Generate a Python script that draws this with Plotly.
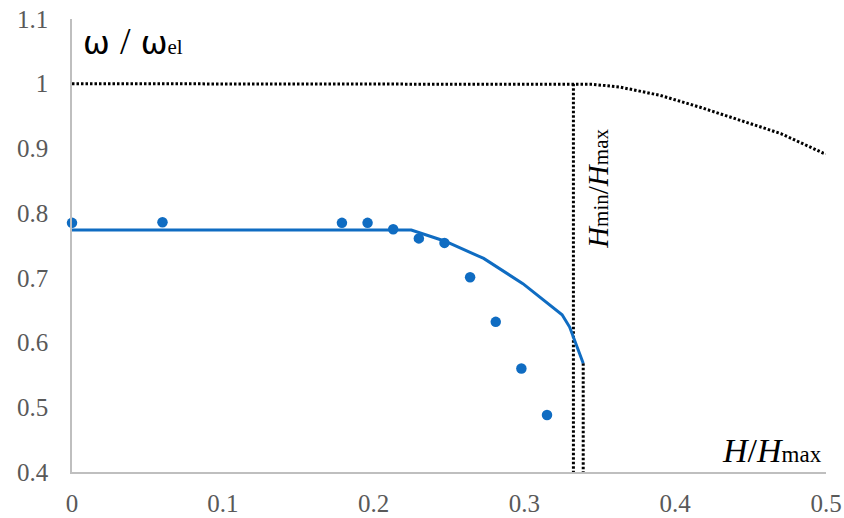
import plotly.graph_objects as go

# Measured points (markers)
pts_x = [0.0, 0.06, 0.179, 0.196, 0.213, 0.230, 0.247, 0.264, 0.281, 0.298, 0.315]
pts_y = [0.785, 0.786, 0.785, 0.785, 0.775, 0.761, 0.754, 0.701, 0.632, 0.560, 0.488]

# Computed curve (solid blue)
line_x = [0.0, 0.225, 0.247, 0.273, 0.299, 0.325, 0.330, 0.339]
line_y = [0.774, 0.774, 0.757, 0.730, 0.691, 0.643, 0.624, 0.568]

# Elastic limit curve (dotted black)
el_x = [0.0, 0.333, 0.345, 0.363, 0.390, 0.416, 0.443, 0.470, 0.498, 0.5]
el_y = [1.0, 1.0, 0.999, 0.995, 0.982, 0.964, 0.944, 0.923, 0.893, 0.892]

# Vertical dotted markers
v1_x = [0.3325, 0.3325]
v1_y = [1.0, 0.4]
v2_x = [0.339, 0.339]
v2_y = [0.568, 0.4]

x_ticks = [0, 0.1, 0.2, 0.3, 0.4, 0.5]
x_tick_text = ["0", "0.1", "0.2", "0.3", "0.4", "0.5"]
y_ticks = [0.4, 0.5, 0.6, 0.7, 0.8, 0.9, 1.0, 1.1]
y_tick_text = ["0.4", "0.5", "0.6", "0.7", "0.8", "0.9", "1", "1.1"]

BLUE = "#0F6CC2"
dot = "2.5px,2px"

fig = go.Figure()
for xs, ys in [(el_x, el_y), (v1_x, v1_y), (v2_x, v2_y)]:
    fig.add_trace(go.Scatter(x=xs, y=ys, mode="lines",
                             line=dict(color="black", width=3, dash=dot),
                             hoverinfo="skip", showlegend=False))
fig.add_trace(go.Scatter(x=line_x, y=line_y, mode="lines",
                         line=dict(color=BLUE, width=3), showlegend=False))
fig.add_trace(go.Scatter(x=pts_x, y=pts_y, mode="markers",
                         marker=dict(color=BLUE, size=10.5, line=dict(width=0)),
                         showlegend=False, cliponaxis=False))

tickfont = dict(family="Liberation Serif", size=25, color="#595959")
fig.update_layout(
    width=844, height=518,
    margin=dict(l=72, r=18, t=19, b=46),
    plot_bgcolor="white", paper_bgcolor="white",
    xaxis=dict(range=[0, 0.5], tickvals=x_ticks, ticktext=x_tick_text,
               showgrid=False, zeroline=False, showline=True, linecolor="#BFBFBF",
               linewidth=1.5, ticks="", tickfont=tickfont, ticklabelstandoff=8,
               automargin=False, ticklabeloverflow="allow"),
    yaxis=dict(range=[0.4, 1.1], tickvals=y_ticks, ticktext=y_tick_text,
               showgrid=False, zeroline=False, showline=True, linecolor="#BFBFBF",
               linewidth=1.5, ticks="", tickfont=tickfont, ticklabelstandoff=17,
               automargin=False, ticklabeloverflow="allow"),
)

fig.add_annotation(
    x=0.0, y=1.1, xref="x", yref="y", xanchor="left", yanchor="top",
    xshift=9, yshift=1, showarrow=False,
    text="ω <span style='font-family:Liberation Serif;font-size:38px'>/</span> ω<span style='font-family:Liberation Serif;font-size:21px'>el</span>",
    font=dict(family="DejaVu Sans", size=32, color="black"),
)
fig.add_annotation(
    x=0.5, y=0.4, xref="x", yref="y", xanchor="right", yanchor="bottom",
    xshift=-2, yshift=1, showarrow=False,
    text="<i>H</i>/<i>H</i><span style='font-size:23px'>max</span>",
    font=dict(family="Liberation Serif", size=34, color="black"),
)
fig.add_annotation(
    x=0.3325, y=0.9, xref="x", yref="y", xanchor="left", yanchor="middle",
    xshift=7, yshift=-40, showarrow=False, textangle=-90,
    text="<i>H</i><span style='font-size:21px'>min</span>/<i>H</i><span style='font-size:21px'>max</span>",
    font=dict(family="Liberation Serif", size=29, color="black"),
)

fig.write_html(
    "out.html",
    config={"displayModeBar": False},
    post_script="document.body.style.margin='0';document.body.style.overflow='hidden';",
)
